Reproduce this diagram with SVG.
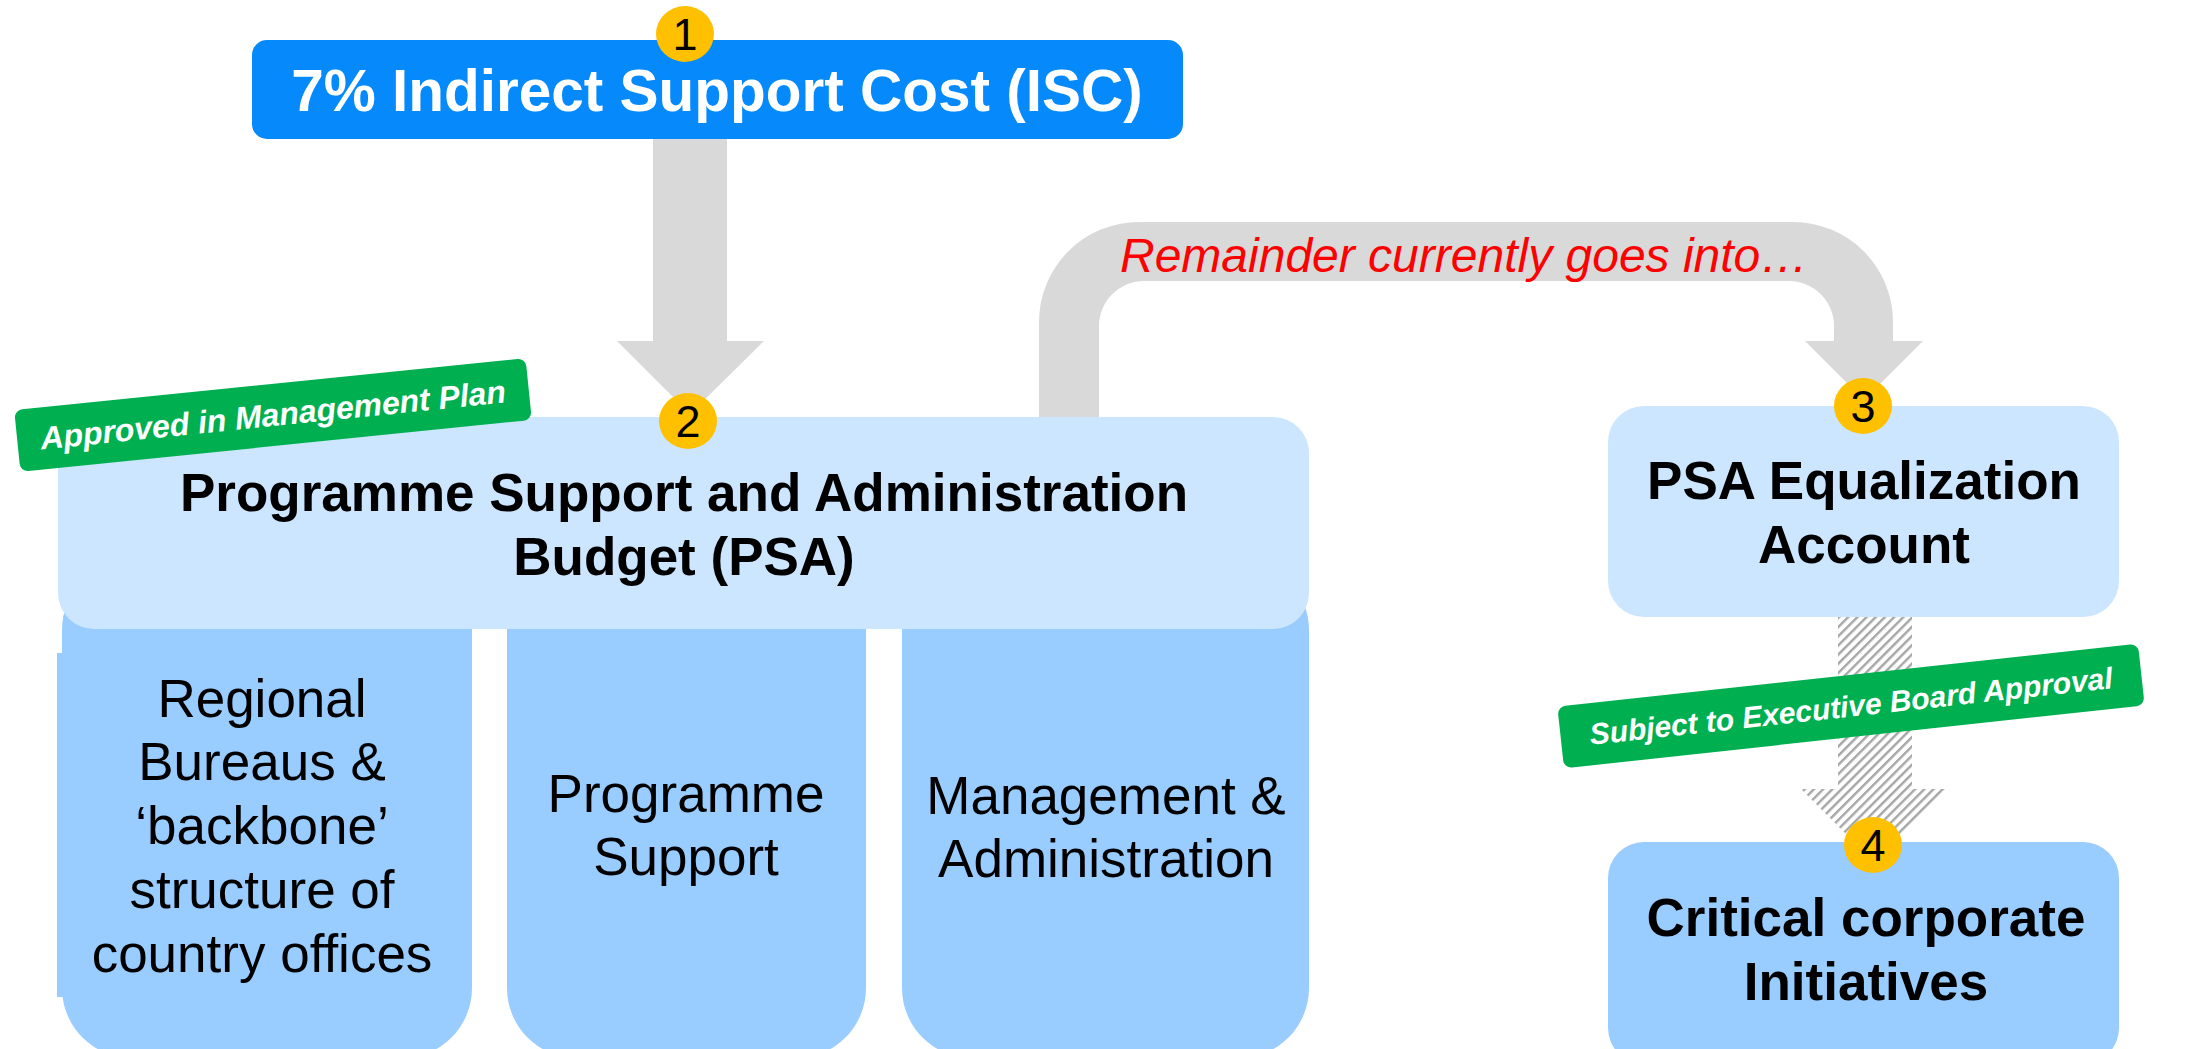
<svg xmlns="http://www.w3.org/2000/svg" width="2192" height="1049" viewBox="0 0 2192 1049">
<style>
text{font-family:"Liberation Sans",Arial,Helvetica,sans-serif}
.title{font-weight:bold;font-size:53px;fill:#000;text-anchor:middle}
.col{font-size:53px;fill:#000;text-anchor:middle}
.badge{fill:#FFC000}
.num{font-size:45px;fill:#000;text-anchor:middle}
.tag{fill:#00B050}
.tagtxt{font-weight:bold;font-style:italic;font-size:32px;fill:#fff;text-anchor:middle}
.light{fill:#CCE6FF}
.mid{fill:#99CCFF}
.arrow{fill:#D9D9D9}
</style>
<defs>
<pattern id="hatch" width="6.5" height="6.5" patternUnits="userSpaceOnUse" patternTransform="rotate(45)">
<rect width="6.5" height="6.5" fill="#fff"/>
<rect width="2.4" height="6.5" fill="#A6A6A6"/>
</pattern>
</defs>
<rect width="2192" height="1049" fill="#fff"/>

<g id="connectors">
<path class="arrow" d="M653,138 L727,138 L727,341 L764,341 L690,414 L617,341 L653,341 Z"/>
<path class="arrow" d="M1039,417 L1039,322 A100,100 0 0 1 1139,222 L1793,222 A100,100 0 0 1 1893,322 L1893,341 L1923,341 L1864,400 L1805,341 L1834,341 L1834,326 A45,45 0 0 0 1789,281 L1144,281 A45,45 0 0 0 1099,326 L1099,417 Z"/>
<text x="1120" y="272" style="font-size:48px;font-style:italic;fill:#FF0000">Remainder currently goes into…</text>
<path fill="url(#hatch)" d="M1838,617 L1912,617 L1912,789 L1947,789 L1874,862 L1801,789 L1838,789 Z"/>
</g>

<g id="node-columns">
<g id="col-regional">
<rect class="mid" x="62" y="560" width="410" height="498" rx="70" ry="70"/>
<rect class="mid" x="57" y="653" width="20" height="344"/>
<text class="col" x="262" y="717">Regional</text>
<text class="col" x="262" y="780">Bureaus &amp;</text>
<text class="col" x="262" y="844">‘backbone’</text>
<text class="col" x="262" y="908">structure of</text>
<text class="col" x="262" y="972">country offices</text>
</g>
<g id="col-programme">
<rect class="mid" x="507" y="560" width="359" height="498" rx="70" ry="70"/>
<text class="col" x="686" y="812">Programme</text>
<text class="col" x="686" y="875">Support</text>
</g>
<g id="col-management">
<rect class="mid" x="902" y="560" width="407" height="498" rx="70" ry="70"/>
<text class="col" x="1106" y="814">Management &amp;</text>
<text class="col" x="1106" y="877">Administration</text>
</g>
</g>

<g id="node-isc">
<rect x="252" y="40" width="931" height="99" rx="15" ry="15" fill="#068AFB"/>
<text x="717" y="111" style="font-weight:bold;font-size:58.5px;fill:#fff;text-anchor:middle">7% Indirect Support Cost (ISC)</text>
</g>

<g id="node-psa">
<rect class="light" x="58" y="417" width="1251" height="212" rx="36" ry="36"/>
<text class="title" x="684" y="511">Programme Support and Administration</text>
<text class="title" x="684" y="575">Budget (PSA)</text>
</g>

<g id="node-equalization">
<rect class="light" x="1608" y="406" width="511" height="211" rx="36" ry="36"/>
<text class="title" x="1864" y="499">PSA Equalization</text>
<text class="title" x="1864" y="563">Account</text>
</g>

<g id="node-critical">
<rect class="mid" x="1608" y="842" width="511" height="222" rx="36" ry="36"/>
<text class="title" x="1866" y="936">Critical corporate</text>
<text class="title" x="1866" y="1000">Initiatives</text>
</g>

<g id="label-approved" transform="translate(273,415) rotate(-5.8)">
<rect class="tag" x="-257" y="-31" width="514" height="62" rx="8" ry="8"/>
<text class="tagtxt" x="0" y="11">Approved in Management Plan</text>
</g>

<g id="label-subject" transform="translate(1851,706) rotate(-6.2)">
<rect class="tag" x="-292" y="-31" width="584" height="62" rx="8" ry="8"/>
<text class="tagtxt" x="0" y="10.5" style="font-size:30px">Subject to Executive Board Approval</text>
</g>

<g id="badge-1"><ellipse class="badge" cx="685" cy="34" rx="29" ry="28"/><text class="num" x="685" y="50">1</text></g>
<g id="badge-2"><ellipse class="badge" cx="688" cy="421" rx="29" ry="28"/><text class="num" x="688" y="437">2</text></g>
<g id="badge-3"><ellipse class="badge" cx="1863" cy="406" rx="29" ry="28"/><text class="num" x="1863" y="422">3</text></g>
<g id="badge-4"><ellipse class="badge" cx="1873" cy="845" rx="29" ry="28"/><text class="num" x="1873" y="861">4</text></g>
</svg>
